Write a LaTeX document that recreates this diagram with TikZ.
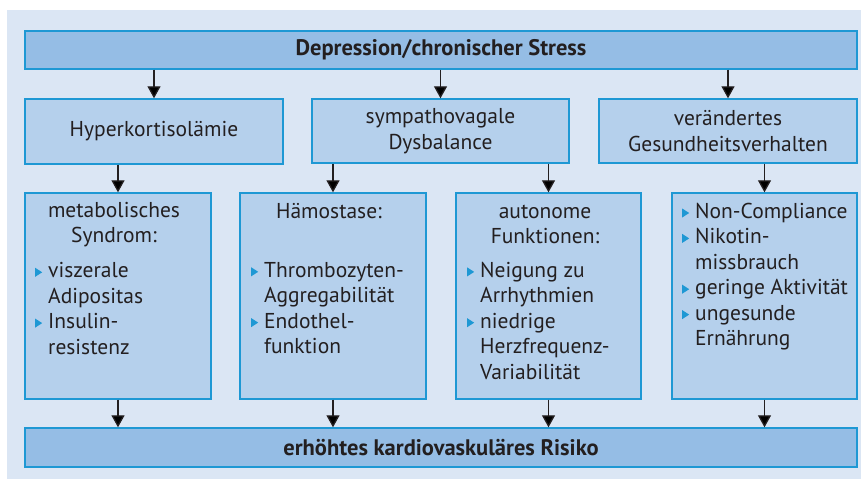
\documentclass[tikz,border=0pt]{standalone}
\usepackage{fontspec}
\setmainfont{PT Sans}
\usetikzlibrary{arrows.meta, positioning}

\definecolor{bgblue}{RGB}{219,230,244}
\definecolor{darkfill}{RGB}{149,189,229}
\definecolor{lightfill}{RGB}{181,208,236}
\definecolor{frameblue}{RGB}{30,152,212}
\definecolor{textgray}{RGB}{35,31,32}

% small blue triangle in front of list items
\newcommand{\listmark}{\llap{\tikz[x=1pt,y=1pt,baseline=0pt]\fill[frameblue] (0,1)--(7,5.5)--(0,10)--cycle;\hspace{6pt}}}

\begin{document}
\begin{tikzpicture}[x=1pt, y=-1pt, font=\fontsize{21.5}{25.4}\selectfont, text=textgray,
	box/.style={draw=frameblue, line width=1.4pt, inner sep=0pt, align=center},
	mainbox/.style={box, fill=darkfill, font=\fontsize{22.5}{25.4}\selectfont\bfseries},
	causebox/.style={box, fill=lightfill},
	arr/.style={-{Triangle[length=12pt, width=13pt]}, line width=1.3pt, draw=textgray},
	headtext/.style={inner sep=0pt, align=center, anchor=base},
	listtext/.style={inner sep=0pt, align=left, anchor=base west}]
		\useasboundingbox (0,0) rectangle (861,481);
		\fill[bgblue] (7,10) rectangle (861,479);

		\node[mainbox, minimum width=832pt, minimum height=38pt]	(stress) at (441, 50) {Depression/chronischer Stress};
		\node[causebox, minimum width=258pt, minimum height=65pt]	(hyper) at (154, 131.5) {Hyperkortisolämie};
		\node[causebox, minimum width=257pt, minimum height=64pt]	(dysb) at (440.5, 131) {sympathovagale\\Dysbalance};
		\node[causebox, minimum width=258pt, minimum height=64pt]	(verhalten) at (728, 131) {verändertes\\Gesundheitsverhalten};
		\node[causebox, minimum width=186pt, minimum height=206pt]	(meta) at (118, 296) {};
		\node[causebox, minimum width=186pt, minimum height=206pt]	(haemo) at (333, 296) {};
		\node[causebox, minimum width=185pt, minimum height=206pt]	(autonom) at (548.5, 296) {};
		\node[causebox, minimum width=185pt, minimum height=206pt]	(compl) at (764.5, 296) {};
		\node[mainbox, minimum width=832pt, minimum height=39pt]	(risiko) at (441, 447.5) {erhöhtes kardiovaskuläres Risiko};

		% anchor base = last line
		\node[headtext]	at (114, 242.5) {metabolisches\\Syndrom:};
		\node[listtext]	at (48, 354) {\listmark viszerale\\Adipositas\\\listmark Insulin-\\resistenz};
		\node[headtext]	at (329, 218) {Hämostase:};
		\node[listtext]	at (264, 353.5) {\listmark Thrombozyten-\\Aggregabilität\\\listmark Endothel-\\funktion};
		\node[headtext]	at (545, 243.5) {autonome\\Funktionen:};
		\node[listtext]	at (480, 379) {\listmark Neigung zu\\Arrhythmien\\\listmark niedrige\\Herzfrequenz-\\Variabilität};
		\node[listtext]	at (695, 345.5) {\listmark Non-Compliance\\\listmark Nikotin-\\missbrauch\\\listmark geringe Aktivität\\\listmark ungesunde\\Ernährung};

		\draw[arr] (stress.south -| hyper.north) -- (hyper.north);
		\draw[arr] (stress.south -| dysb.north) -- (dysb.north);
		\draw[arr] (stress.south -| verhalten.north) -- (verhalten.north);
		\draw[arr] (hyper.south -| meta.north) -- (meta.north);
		\draw[arr] (dysb.south -| haemo.north) -- (haemo.north);
		\draw[arr] (dysb.south -| autonom.north) -- (autonom.north);
		\draw[arr] (verhalten.south -| compl.north) -- (compl.north);
		\foreach \n in {meta, haemo, autonom, compl}
			\draw[arr] (\n.south) -- (\n.south |- risiko.north);
	\end{tikzpicture}
\end{document}
